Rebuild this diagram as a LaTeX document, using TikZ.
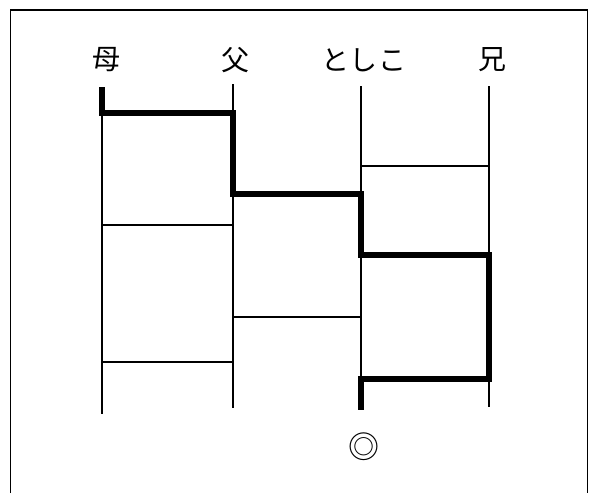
\documentclass[tikz,border=0pt]{standalone}
\usepackage{fontspec}
\newfontfamily\jpfont{Noto Sans CJK JP}
\usetikzlibrary{positioning}

\begin{document}
\begin{tikzpicture}[x=1pt,y=-1pt,
  thinline/.style={line width=1.3pt},
  pathline/.style={line width=5.5pt,line join=miter},
  person/.style={font=\jpfont\fontsize{28}{28}\selectfont,inner sep=0pt}]
\useasboundingbox (0,0) rectangle (589,493);
% frame, open at the bottom
\draw[line width=1.6pt] (10.5,493) -- (10.5,10) -- (587.5,10) -- (587.5,493);
% names
\node[person] (mother) at (106,60) {母};
\node[person] (father) at (235,60) {父};
\node[person] (toshiko) at (364,60) {と\hspace{1pt}し\hspace{1pt}こ};
\node[person] (brother) at (492,60) {兄};
% ends of the lines
\coordinate (m0) at (102,87);  \coordinate (m1) at (102,414);
\coordinate (f0) at (233,84);  \coordinate (f1) at (233,408);
\coordinate (t0) at (361,86);  \coordinate (t1) at (361,410);
\coordinate (b0) at (489,86);  \coordinate (b1) at (489,407);
\foreach \a/\b in {m0/m1,f0/f1,t0/t1,b0/b1}
  \draw[thinline] (\a) -- (\b);
% rungs
\draw[thinline] (m0 |- 0,113) -- (f0 |- 0,113);
\draw[thinline] (t0 |- 0,166) -- (b0 |- 0,166);
\draw[thinline] (f0 |- 0,194) -- (t0 |- 0,194);
\draw[thinline] (m0 |- 0,225) -- (f0 |- 0,225);
\draw[thinline] (t0 |- 0,255) -- (b0 |- 0,255);
\draw[thinline] (f0 |- 0,317) -- (t0 |- 0,317);
\draw[thinline] (m0 |- 0,362) -- (f0 |- 0,362);
\draw[thinline] (t0 |- 0,379) -- (b0 |- 0,379);
% the way down
\draw[pathline] (m0) |- (f0 |- 0,113) |- (t0 |- 0,194) |- (b0 |- 0,255)
  |- (t0 |- 0,379) -- (t1);
\node[person,font=\jpfont\fontsize{31}{31}\selectfont] (goal) at (364,447) {◎};
\end{tikzpicture}
\end{document}
